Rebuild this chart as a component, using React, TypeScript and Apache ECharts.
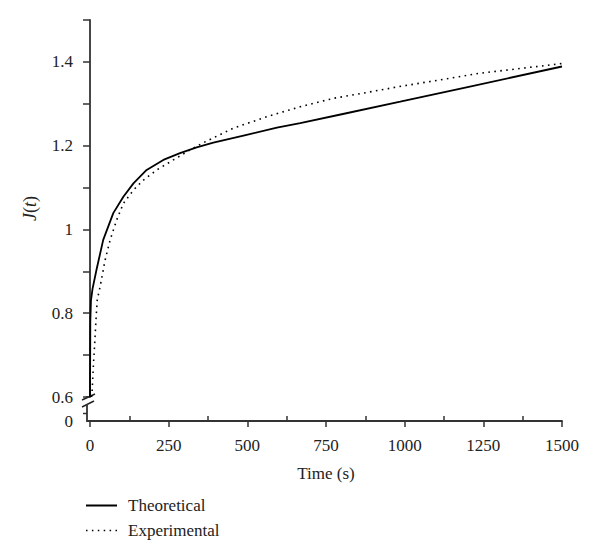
import React, { useEffect, useRef } from "react";
import * as echarts from "echarts";

// Theoretical curve (solid)
const tTheo = [0, 1, 3, 8, 21, 42, 74, 106, 138, 180, 233, 286, 339, 392, 498, 594, 668, 800, 986, 1200, 1500];
const jTheo = [0.6, 0.78, 0.83, 0.858, 0.905, 0.975, 1.039, 1.078, 1.11, 1.142, 1.166, 1.182, 1.196, 1.207, 1.226, 1.243, 1.254, 1.275, 1.305, 1.34, 1.389];

// Experimental curve (dotted)
const tExp = [5, 7, 10.5, 15, 19, 23, 32, 48, 64, 85, 106, 138, 170, 212, 265, 318, 360, 456, 562, 668, 774, 880, 975, 1240, 1500];
const jExp = [0.6, 0.617, 0.672, 0.729, 0.784, 0.832, 0.863, 0.927, 0.975, 1.023, 1.062, 1.094, 1.118, 1.142, 1.166, 1.19, 1.207, 1.242, 1.269, 1.293, 1.313, 1.327, 1.34, 1.373, 1.396];

const yLabelValues = [0.6, 0.8, 1, 1.2, 1.4];
const seriesNames = ["Theoretical", "Experimental"];

const FONT = "'Liberation Serif', 'Times New Roman', serif";
const AXIS_COLOR = "#333";

// legend icons: a solid bar and a row of dots
const DOTS_ICON =
  "path://" +
  [0, 5.9, 11.8, 17.7, 23.6, 29.5].map((x) => `M${x},0h1.5v1.5h-1.5z`).join(" ");

export default function App() {
  const ref = useRef<HTMLDivElement>(null);

  useEffect(() => {
    document.body.style.margin = "0";
    const chart = echarts.init(ref.current!, null, { renderer: "svg" });

    const option: any = {
      animation: false,
      backgroundColor: "#fff",
      textStyle: { fontFamily: FONT, color: "#222" },
      grid: { left: 90, right: 38, top: 20, bottom: 163 },
      legend: {
        data: [
          { name: seriesNames[0], icon: "rect" },
          { name: seriesNames[1], icon: DOTS_ICON },
        ],
        orient: "vertical",
        left: 86,
        top: 497,
        itemWidth: 31,
        itemHeight: 2,
        itemGap: 8,
        padding: 0,
        textStyle: { fontFamily: FONT, fontSize: 17, color: "#222", padding: [0, 0, 0, 6] },
      },
      xAxis: {
        type: "value",
        min: 0,
        max: 1500,
        interval: 250,
        offset: 24,
        name: "Time (s)",
        nameLocation: "middle",
        nameGap: 44,
        nameTextStyle: { fontFamily: FONT, fontSize: 17, color: "#222" },
        axisLine: { show: true, lineStyle: { color: AXIS_COLOR, width: 1.8 } },
        axisTick: { show: true, length: 6, lineStyle: { color: AXIS_COLOR, width: 1.5 } },
        minorTick: { show: true, splitNumber: 2, length: -5, lineStyle: { color: AXIS_COLOR, width: 1.5 } },
        axisLabel: {
          margin: 16,
          fontFamily: FONT,
          fontSize: 17,
          color: "#222",
          formatter: (v: number) => String(v),
        },
        splitLine: { show: false },
      },
      yAxis: {
        type: "value",
        min: 0.6,
        max: 1.5,
        interval: 0.1,
        offset: 3,
        name: "{i|J}{n|(}{i|t}{n|)}",
        nameLocation: "middle",
        nameGap: 48,
        nameTextStyle: {
          rich: {
            i: { fontFamily: FONT, fontSize: 18, fontStyle: "italic", color: "#222" },
            n: { fontFamily: FONT, fontSize: 18, color: "#222" },
          },
        },
        axisLine: { show: true, lineStyle: { color: AXIS_COLOR, width: 1.8 } },
        axisTick: { show: true, length: 7, lineStyle: { color: AXIS_COLOR, width: 1.5 } },
        axisLabel: {
          margin: 14,
          fontFamily: FONT,
          fontSize: 17,
          color: "#222",
          formatter: (v: number) => {
            const hit = yLabelValues.find((l) => Math.abs(l - v) < 1e-6);
            return hit === undefined ? "" : String(hit);
          },
        },
        splitLine: { show: false },
      },
      series: [
        {
          name: seriesNames[0],
          type: "line",
          symbol: "none",
          smooth: false,
          data: tTheo.map((t, i) => [t, jTheo[i]]),
          lineStyle: { color: "#000", width: 1.8 },
          itemStyle: { color: "#000" },
          z: 3,
        },
        {
          name: seriesNames[1],
          type: "line",
          symbol: "none",
          smooth: false,
          data: tExp.map((t, i) => [t, jExp[i]]),
          lineStyle: { color: "#000", width: 1.6, type: [1.6, 4.4] },
          itemStyle: { color: "#000" },
          z: 2,
        },
      ],
    };

    chart.setOption(option);

    // Axis-break decorations computed from the axes' own scales
    const y06 = chart.convertToPixel({ yAxisIndex: 0 }, 0.6) as number;
    const x0 = chart.convertToPixel({ xAxisIndex: 0 }, 0) as number;
    const ax = x0 - 3; // y-axis line position (offset 3)
    const xAxisY = y06 + 24; // x-axis line position (offset 24)
    const lineStyle = { stroke: AXIS_COLOR, lineWidth: 1.8 };

    chart.setOption({
      graphic: [
        { type: "line", shape: { x1: ax, y1: y06 - 1, x2: ax, y2: y06 + 1 }, style: lineStyle },
        { type: "line", shape: { x1: ax - 5, y1: y06 + 3, x2: ax + 8, y2: y06 - 3 }, style: { stroke: "#222", lineWidth: 1.5 } },
        { type: "line", shape: { x1: ax - 5, y1: y06 + 10, x2: ax + 7, y2: y06 + 4 }, style: { stroke: "#222", lineWidth: 1.5 } },
        { type: "polyline", shape: { points: [[ax, y06 + 7], [ax, xAxisY], [x0, xAxisY]] }, style: { ...lineStyle, fill: null } },
        { type: "line", shape: { x1: ax - 4, y1: (y06 + 7 + xAxisY) / 2 + 1, x2: ax, y2: (y06 + 7 + xAxisY) / 2 + 1 }, style: { stroke: AXIS_COLOR, lineWidth: 1.5 } },
        {
          type: "text",
          style: {
            x: ax - 14,
            y: xAxisY,
            text: "0",
            align: "right",
            verticalAlign: "middle",
            font: `17px ${FONT}`,
            fill: "#222",
          },
        },
      ],
    });

    return () => chart.dispose();
  }, []);

  return <div ref={ref} style={{ width: 600, height: 560 }} />;
}
